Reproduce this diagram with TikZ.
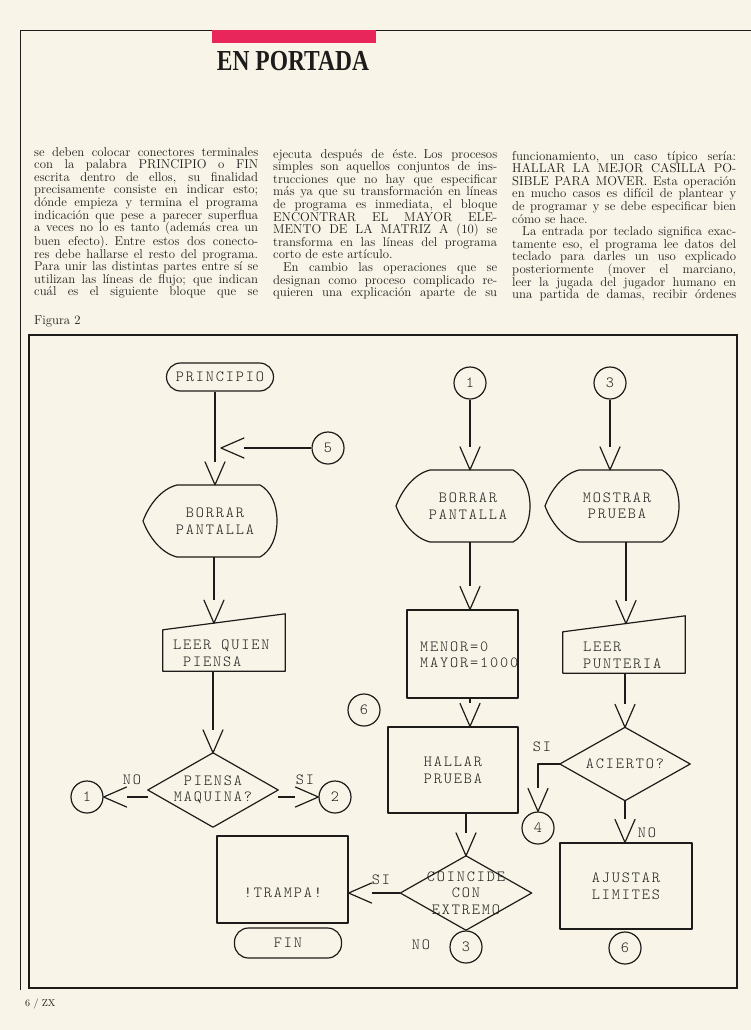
\documentclass[tikz,border=0pt]{standalone}
\usepackage{fontspec}
\usetikzlibrary{arrows.meta,calc}
\newfontfamily\plotfont{lmmonolt10-regular.otf}[LetterSpace=12]
\newfontfamily\headfont{Liberation Serif}
\definecolor{paper}{RGB}{248,245,232}
\definecolor{ink}{RGB}{30,28,26}
\definecolor{barred}{RGB}{232,38,92}

\pgfdeclarearrow{
  name = OpenV,
  parameters = {\the\pgfarrowlength,\the\pgfarrowwidth},
  setup code = {
    \pgfarrowssettipend{0pt}
    \pgfarrowssetlineend{-\pgfarrowlength}
    \pgfarrowssetvisualbackend{-\pgfarrowlength}
    \pgfarrowssetbackend{-\pgfarrowlength}
    \pgfarrowssavethe\pgfarrowlength
    \pgfarrowssavethe\pgfarrowwidth
  },
  drawing code = {
    \pgfsetdash{}{0pt}
    \pgfsetroundjoin
    \pgfsetroundcap
    \pgfpathmoveto{\pgfqpoint{-\pgfarrowlength}{.5\pgfarrowwidth}}
    \pgfpathlineto{\pgfpointorigin}
    \pgfpathlineto{\pgfqpoint{-\pgfarrowlength}{-.5\pgfarrowwidth}}
    \pgfusepathqstroke
  },
  defaults = {length=23pt, width=20pt}
}

\newcommand\JL[1]{\makebox[224pt][s]{\spaceskip=0.3333em plus 3em minus 0.12em\relax #1}}
\newcommand\diaout[1]{\draw[ln] (#1.north) -- (#1.east) -- (#1.south) -- (#1.west) -- cycle;}
\newcommand\manout[1]{\draw[ln] (#1.south west) -- (#1.south east) -- ($(#1.north east)+(0,-16)$) -- (#1.north west) -- cycle;}
\newcommand\dispout[1]{%
  \draw[ln] ($(#1.center)+(-72,0)$)
    .. controls ($(#1.center)+(-66,-16)$) and ($(#1.center)+(-54,-32)$) .. ($(#1.center)+(-38,-36)$)
    -- ($(#1.center)+(45,-36)$)
    .. controls ($(#1.center)+(56,-30)$) and ($(#1.center)+(62,-16)$) .. ($(#1.center)+(62,0)$)
    .. controls ($(#1.center)+(62,16)$) and ($(#1.center)+(56,30)$) .. ($(#1.center)+(45,36)$)
    -- ($(#1.center)+(-38,36)$)
    .. controls ($(#1.center)+(-54,32)$) and ($(#1.center)+(-66,16)$) .. cycle;}

\begin{document}
\begin{tikzpicture}[x=1pt,y=-1pt,
  ln/.style={draw=ink, line width=1.2pt, line join=round},
  arr/.style={ln, -{OpenV}},
  ptxt/.style={font=\plotfont\fontsize{15.5}{16.5}\selectfont, text=ink, align=center},
  lbl/.style={ptxt, inner sep=0},
  term/.style={ln, ptxt, rounded corners=14pt, minimum width=107pt, minimum height=28pt, inner sep=0},
  conn/.style={ln, ptxt, circle, minimum size=32pt, inner sep=0},
  boxn/.style={ln, ptxt, rectangle, inner sep=0},
  frm/.style={ptxt, rectangle, inner sep=0},
  body/.style={font=\fontsize{12.8}{12.6}\selectfont, text=ink, align=left, text width=224pt, inner sep=0, anchor=base west}
]
\useasboundingbox[fill=paper] (0,0) rectangle (751,1030);

% page rules and header
\draw[draw=ink, line width=0.9pt] (20,990) -- (20,30) -- (751,30);
\fill[barred] (212,30.5) rectangle (376,43);
\node[inner sep=0, text=ink, font=\headfont\bfseries\fontsize{29}{29}\selectfont] (title) at (293,61) {\scalebox{0.81}[1]{EN PORTADA}};

% body text
\node[body] (col1) at (34,156) {%
\JL{se deben colocar conectores terminales}\\
\JL{con la palabra PRINCIPIO o FIN}\\
\JL{escrita dentro de ellos, su finalidad}\\
\JL{precisamente consiste en indicar esto;}\\
\JL{dónde empieza y termina el programa}\\
\JL{indicación que pese a parecer superflua}\\
\JL{a veces no lo es tanto (además crea un}\\
\JL{buen efecto). Entre estos dos conecto-}\\
\JL{res debe hallarse el resto del programa.}\\
\JL{Para unir las distintas partes entre sí se}\\
\JL{utilizan las líneas de flujo; que indican}\\
\JL{cuál es el siguiente bloque que se}};

\node[body] (col2) at (273,158) {%
\JL{ejecuta después de éste. Los procesos}\\
\JL{simples son aquellos conjuntos de ins-}\\
\JL{trucciones que no hay que especificar}\\
\JL{más ya que su transformación en líneas}\\
\JL{de programa es inmediata, el bloque}\\
\JL{ENCONTRAR EL MAYOR ELE-}\\
\JL{MENTO DE LA MATRIZ A (10) se}\\
\JL{transforma en las líneas del programa}\\
corto de este artículo.\\
\JL{\hspace*{10pt}En cambio las operaciones que se}\\
\JL{designan como proceso complicado re-}\\
\JL{quieren una explicación aparte de su}};

\node[body] (col3) at (512,160) {%
\JL{funcionamiento, un caso típico sería:}\\
\JL{HALLAR LA MEJOR CASILLA PO-}\\
\JL{SIBLE PARA MOVER. Esta operación}\\
\JL{en mucho casos es difícil de plantear y}\\
\JL{de programar y se debe especificar bien}\\
cómo se hace.\\
\JL{\hspace*{10pt}La entrada por teclado significa exac-}\\
\JL{tamente eso, el programa lee datos del}\\
\JL{teclado para darles un uso explicado}\\
\JL{posteriormente (mover el marciano,}\\
\JL{leer la jugada del jugador humano en}\\
\JL{una partida de damas, recibir órdenes}};

\node[inner sep=0, anchor=base west, text=ink, font=\fontsize{12.8}{12}\selectfont] (fig) at (34,324) {Figura 2};

% figure frame
\draw[draw=ink, line width=1.3pt] (29,335) rectangle (737,988);

% ---------- left column ----------
\node[term] (p) at (220,377) {PRINCIPIO};
\node[conn] (c5) at (328,448) {5};
\coordinate (j5) at (221,448);
\node[frm, minimum height=72pt] (b1) at (215,521) {BORRAR\\PANTALLA};
\dispout{b1}
\node[frm, minimum width=122pt, minimum height=41pt] (l1) at (224,650.5) {};
\manout{l1}
\node[lbl, align=left, anchor=west] (l1t) at (173,653.5) {LEER QUIEN\\\hspace*{10pt}PIENSA};
\node[frm, minimum width=130pt, minimum height=74pt] (d1) at (213,790) {PIENSA\\MAQUINA?};
\diaout{d1}
\node[conn] (c1L) at (87,797) {1};
\node[conn] (c2) at (335,797) {2};
\node[lbl] (no1) at (132,780) {NO};
\node[lbl] (si1) at (305,780) {SI};
\node[conn] (c6L) at (364,710) {6};
\node[boxn, minimum width=131pt, minimum height=87pt] (t) at (282.5,879.5) {};
\node[lbl] (tt) at (283,893) {!TRAMPA!};
\node[term, minimum height=30pt] (fin) at (288,943) {FIN};

\path (l1.north west) -- ($(l1.north east)+(0,-16)$) coordinate[pos=0.418] (l1in);
\draw[arr] (b1.north |- p.south) -- (b1.north);
\draw[arr] (c5.west) -- (j5);
\draw[arr] (l1in |- b1.south) -- (l1in);
\draw[arr] (l1.south -| d1.north) -- (d1.north);
\draw[arr] (d1.west |- c1L.east) -- (c1L.east);
\draw[arr] (d1.east |- c2.west) -- (c2.west);

% ---------- middle column ----------
\node[conn] (c1) at (470,383) {1};
\node[frm, minimum height=72pt] (b2) at (468,506) {BORRAR\\PANTALLA};
\dispout{b2}
\node[boxn, minimum width=111pt, minimum height=88pt] (m) at (462.5,654) {};
\node[lbl, align=left, anchor=west] (mt) at (420,655) {MENOR=0\\MAYOR=1000};
\node[boxn, minimum width=130pt, minimum height=86pt] (h) at (453,770) {HALLAR\\PRUEBA};
\node[frm, minimum width=131pt, minimum height=74pt] (d3) at (466,893) {COINCIDE\\CON\\EXTREMO};
\diaout{d3}
\node[lbl] (si3) at (381,880) {SI};
\node[conn] (c3b) at (466,947) {3};
\node[lbl] (no3) at (421,945) {NO};

\draw[arr] (c1.south) -- (c1 |- b2.north);
\draw[arr] (c1 |- b2.south) -- (c1 |- m.north);
\draw[arr] (c1 |- m.south) -- (c1 |- h.north);
\draw[arr] (h.south -| d3.north) -- (d3.north);
\draw[arr] (d3.west) -- (d3.west -| t.east);

% ---------- right column ----------
\node[conn] (c3) at (610,383) {3};
\node[frm, minimum height=72pt] (b3) at (617,506) {MOSTRAR\\PRUEBA};
\dispout{b3}
\node[frm, minimum width=122pt, minimum height=41pt] (l2) at (624,652.5) {};
\manout{l2}
\node[lbl, align=left, anchor=west] (l2t) at (583,655.5) {LEER\\PUNTERIA};
\node[frm, minimum width=130pt, minimum height=73pt] (d2) at (625,764) {ACIERTO?};
\diaout{d2}
\node[lbl] (si2) at (542,747) {SI};
\node[conn] (c4) at (538,828) {4};
\node[lbl] (no2) at (647,833) {NO};
\node[boxn, minimum width=132pt, minimum height=86pt] (a) at (626,886) {AJUSTAR\\LIMITES};
\node[conn] (c6b) at (625,948) {6};

\path (l2.north west) -- ($(l2.north east)+(0,-16)$) coordinate[pos=0.516] (l2in);
\draw[arr] (c3.south) -- (c3 |- b3.north);
\draw[arr] (l2in |- b3.south) -- (l2in);
\draw[arr] (l2.south -| d2.north) -- (d2.north);
\draw[arr] (d2.west) -| (c4.north);
\draw[arr] (d2.south) -- (a.north -| d2.south);

% footer
\node[inner sep=0, anchor=west, text=ink, font=\fontsize{10}{10}\selectfont] (foot) at (25,1004) {6 / ZX};
\end{tikzpicture}
\end{document}
